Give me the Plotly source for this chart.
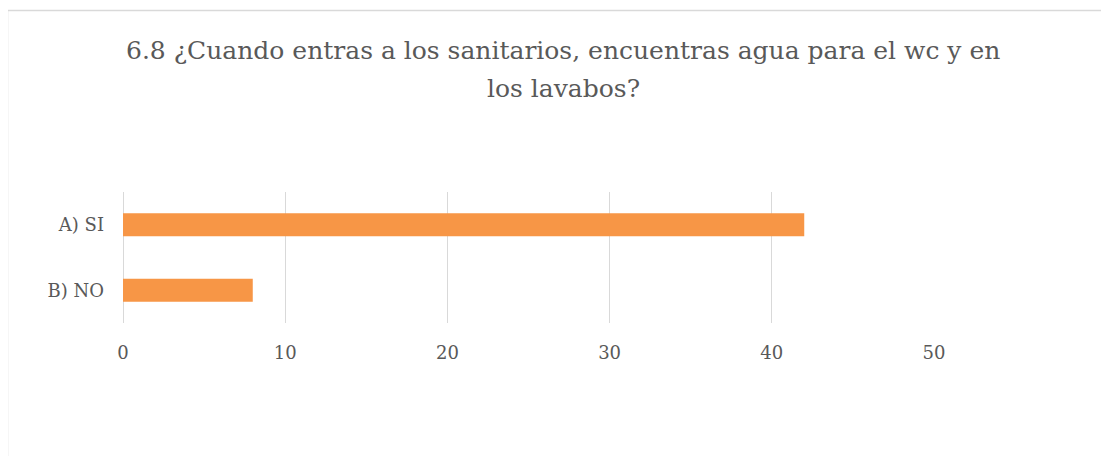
import plotly.graph_objects as go

categories = ["A) SI", "B) NO"]
values = [42, 8]
x_ticks = [0, 10, 20, 30, 40, 50]
title_lines = ["6.8 ¿Cuando entras a los sanitarios, encuentras agua para el wc y en",
               "los lavabos?"]

OFF = 8  # page body margin
W, H = 1109 - OFF, 456 - OFF
L, R, T, B = 123 - OFF, 934 - OFF, 192 - OFF, 323 - OFF

def px_x(px):
    return (px - OFF - L) / (R - L)

def px_y(py):
    return (B - (py - OFF)) / (B - T)

FONT = "DejaVu Serif"
GREY = "#595959"

fig = go.Figure(go.Bar(
    y=categories, x=values, orientation="h",
    marker=dict(color="#F79646", line=dict(width=0)),
))

fig.update_layout(
    width=W, height=H,
    margin=dict(l=L, r=W - R, t=T, b=H - B, pad=0),
    paper_bgcolor="white", plot_bgcolor="white",
    showlegend=False,
    bargap=0.65,
    font=dict(family=FONT, color=GREY, size=18),
    xaxis=dict(range=[0, 50], tickvals=x_ticks, showgrid=True, gridcolor="#d9d9d9",
               gridwidth=1, zeroline=True, zerolinecolor="#d9d9d9", zerolinewidth=1,
               showline=False, ticks="", ticklabelstandoff=17,
               tickfont=dict(family=FONT, size=18, color=GREY), fixedrange=True),
    yaxis=dict(autorange="reversed", showgrid=False, zeroline=False, showline=False,
               ticks="", ticklabelstandoff=18,
               tickfont=dict(family=FONT, size=18, color=GREY), fixedrange=True),
    shapes=[
        dict(type="line", xref="paper", yref="paper",
             x0=px_x(7.5), x1=px_x(1120), y0=px_y(10.5), y1=px_y(10.5),
             line=dict(color="#d9d9d9", width=1.5)),
        dict(type="line", xref="paper", yref="paper",
             x0=px_x(7.5), x1=px_x(7.5), y0=px_y(10.5), y1=px_y(470),
             line=dict(color="#d9d9d9", width=1.5)),
    ],
    annotations=[
        dict(text=title_lines[0], xref="paper", yref="paper", x=px_x(563), y=px_y(50),
             xanchor="center", yanchor="middle", showarrow=False,
             font=dict(family=FONT, size=25, color=GREY)),
        dict(text=title_lines[1], xref="paper", yref="paper", x=px_x(563), y=px_y(88),
             xanchor="center", yanchor="middle", showarrow=False,
             font=dict(family=FONT, size=25, color=GREY)),
    ],
)

fig.write_html("out.html")
